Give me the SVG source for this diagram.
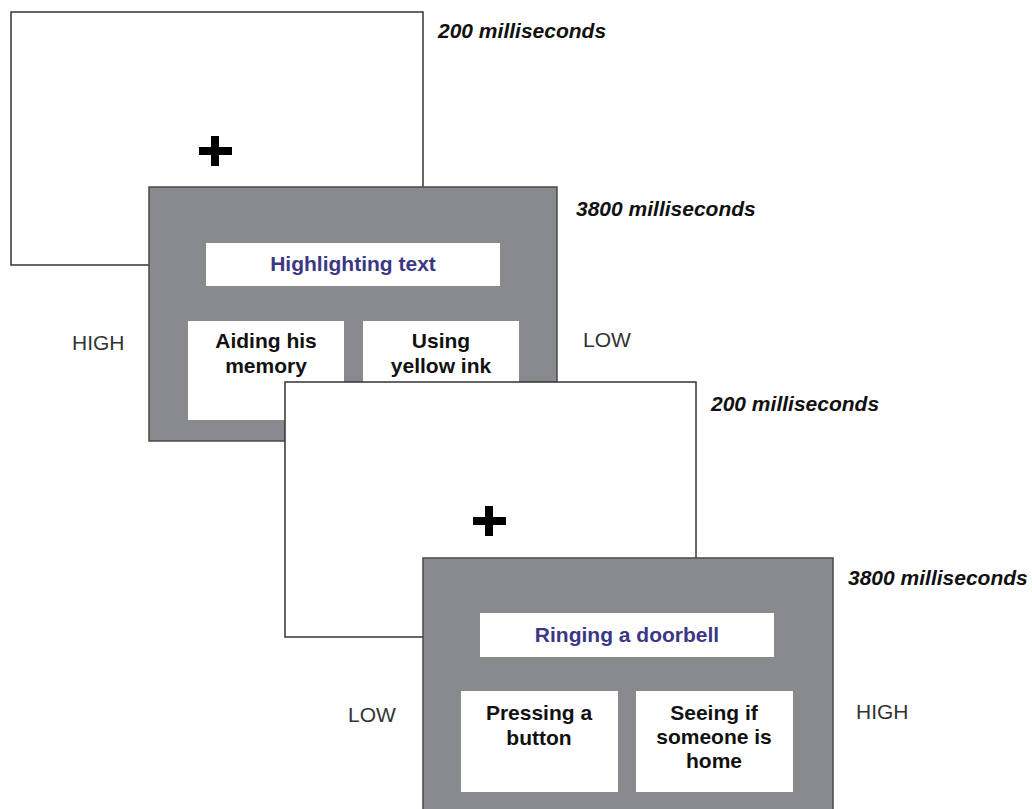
<svg xmlns="http://www.w3.org/2000/svg" width="1032" height="809" viewBox="0 0 1032 809">
<style>
.scr{fill:#ffffff;stroke:#333333;stroke-width:1.5}
.gry{fill:#898a8e;stroke:#4a4a4a;stroke-width:1.5}
.wb{fill:#ffffff;stroke:none}
.crs{fill:#000000}
.tm{font-family:"Liberation Sans",Arial,sans-serif;font-size:21px;font-weight:bold;font-style:italic;fill:#111111}
.ttl{font-family:"Liberation Sans",Arial,sans-serif;font-size:21px;font-weight:bold;fill:#3b3785;text-anchor:middle}
.opt{font-family:"Liberation Sans",Arial,sans-serif;font-size:21px;font-weight:bold;fill:#111111;text-anchor:middle}
.lvl{font-family:"Liberation Sans",Arial,sans-serif;font-size:21px;fill:#333333}
</style>
<rect width="1032" height="809" fill="#ffffff"/>
<g id="fixation1">
<rect class="scr" x="11" y="12" width="412" height="253"/>
<rect class="crs" x="199" y="147" width="33" height="8"/>
<rect class="crs" x="211" y="136" width="8" height="30"/>
<text class="tm" x="438" y="38">200 milliseconds</text>
</g>
<g id="trial1">
<rect class="gry" x="149" y="187" width="408" height="254"/>
<rect class="wb" x="206" y="243" width="294" height="43"/>
<text class="ttl" x="353" y="271">Highlighting text</text>
<rect class="wb" x="188" y="321" width="156" height="99"/>
<text class="opt" x="266" y="348">Aiding his</text>
<text class="opt" x="266" y="373">memory</text>
<rect class="wb" x="363" y="321" width="156" height="99"/>
<text class="opt" x="441" y="348">Using</text>
<text class="opt" x="441" y="373">yellow ink</text>
<text class="tm" x="576" y="216">3800 milliseconds</text>
<text class="lvl" x="72" y="350">HIGH</text>
<text class="lvl" x="583" y="347">LOW</text>
</g>
<g id="fixation2">
<rect class="scr" x="285" y="382" width="411" height="255"/>
<rect class="crs" x="473" y="517" width="33" height="8"/>
<rect class="crs" x="485" y="506" width="8" height="30"/>
<text class="tm" x="711" y="411">200 milliseconds</text>
</g>
<g id="trial2">
<rect class="gry" x="423" y="558" width="410" height="260"/>
<rect class="wb" x="480" y="613" width="294" height="44"/>
<text class="ttl" x="627" y="642">Ringing a doorbell</text>
<rect class="wb" x="461" y="691" width="157" height="101"/>
<text class="opt" x="539" y="720">Pressing a</text>
<text class="opt" x="539" y="745">button</text>
<rect class="wb" x="636" y="691" width="157" height="101"/>
<text class="opt" x="714" y="720">Seeing if</text>
<text class="opt" x="714" y="744">someone is</text>
<text class="opt" x="714" y="768">home</text>
<text class="tm" x="848" y="585">3800 milliseconds</text>
<text class="lvl" x="348" y="722">LOW</text>
<text class="lvl" x="856" y="719">HIGH</text>
</g>
<g id="connectors"/>
</svg>
